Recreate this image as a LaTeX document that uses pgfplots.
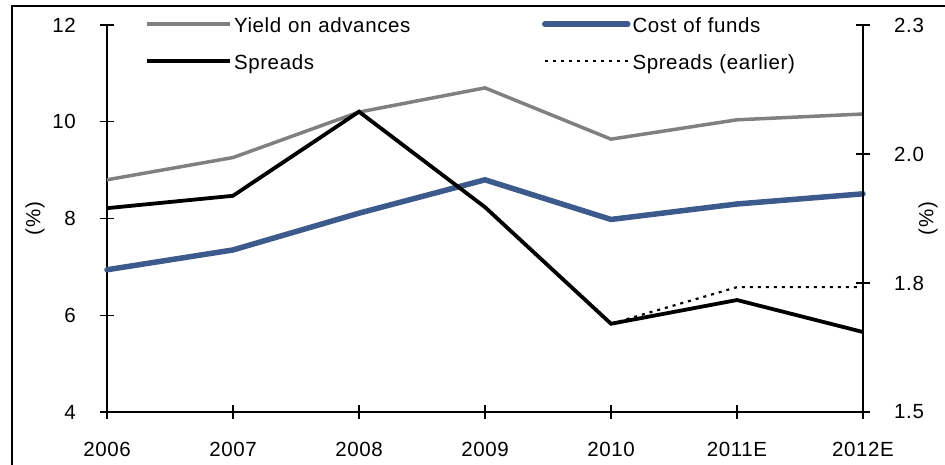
\documentclass[border=0pt]{standalone}
\usepackage{fontspec}
\setmainfont{Liberation Sans}[LetterSpace=3]
\usepackage{pgfplots}
\pgfplotsset{compat=1.18}

\definecolor{yieldgray}{RGB}{128,128,128}
\definecolor{fundsblue}{RGB}{60,90,140}

% year index: 0 = 2006 ... 6 = 2012E
\pgfplotstableread{
x yield cost
0 8.80 6.94
1 9.26 7.35
2 10.20 8.11
3 10.70 8.80
4 9.64 7.98
5 10.04 8.30
6 10.16 8.51
}\ratesdata
\pgfplotstableread{
x spread earlier
0 1.895 1.895
1 1.919 1.919
2 2.082 2.082
3 1.897 1.897
4 1.671 1.671
5 1.717 1.742
6 1.655 1.742
}\spreaddata

\pgfplotsset{
  common/.style={
    scale only axis, width=756pt, height=387pt,
    at={(0pt,0pt)}, anchor=south west,
    xmin=0, xmax=6, clip=false,
    font=\fontsize{20.5}{24}\selectfont,
    /pgf/number format/assume math mode=true,
    major tick length=14pt, tick align=center,
    tick style={black, line width=1.2pt},
    axis line style={black, line width=1.5pt},
    yticklabel style={inner sep=0pt},
  },
}

\begin{document}
\begin{tikzpicture}
\path[use as bounding box] (-107pt,-53pt) rectangle (838pt,412pt);
\draw[line width=1.5pt] (-95pt,-70pt) -- (-95pt,406pt) -- (860pt,406pt);

\begin{axis}[common,
  axis x line*=bottom, axis y line*=left,
  ymin=4, ymax=12, ytick={4,6,8,10,12},
  xtick={0,...,6},
  xticklabels={2006,2007,2008,2009,2010,2011E,2012E},
  xticklabel style={inner sep=0pt, anchor=north, yshift=-23pt},
  yticklabel style={anchor=east, xshift=-24pt},
  ylabel={(\%)},
  every axis y label/.style={at={(axis description cs:-0.0952,0.5)}, rotate=90, anchor=center},
  legend columns=2,
  legend style={draw=none, fill=none, inner sep=0pt, row sep=19pt,
    at={(axis description cs:0.0503,1.018)}, anchor=north west,
    nodes={inner xsep=2pt, inner ysep=0pt, text height=14pt, text depth=4pt,
      text width=306pt, align=left},
    /tikz/every odd column/.append style={column sep=0pt}},
  legend cell align=left,
  legend image code/.code={\draw[#1] (0pt,3pt) -- (83pt,3pt);},
]
\addplot[yieldgray, line width=3.5pt] table[x=x, y=yield] {\ratesdata};
\addlegendentry{Yield on advances}
\addplot[fundsblue, line width=5.5pt, line cap=round, line join=round] table[x=x, y=cost] {\ratesdata};
\addlegendentry{Cost of funds}
\addlegendimage{black, line width=3.8pt}
\addlegendentry{Spreads}
\addlegendimage{black, line width=2.2pt, dash pattern=on 3pt off 5pt}
\addlegendentry{Spreads (earlier)}
\end{axis}

\begin{axis}[common,
  axis x line=none, axis y line*=right,
  ymin=1.5, ymax=2.25, ytick={1.5,1.75,2.0,2.25},
  yticklabels={1.5,1.8,2.0,2.3},
  yticklabel style={anchor=west, xshift=24pt},
  ylabel={(\%)},
  every axis y label/.style={at={(axis description cs:1.086,0.5)}, rotate=90, anchor=center},
]
\addplot[black, line width=2.2pt, dash pattern=on 3pt off 5pt] table[x=x, y=earlier] {\spreaddata};
\addplot[black, line width=3.8pt] table[x=x, y=spread] {\spreaddata};
\end{axis}
\end{tikzpicture}
\end{document}
